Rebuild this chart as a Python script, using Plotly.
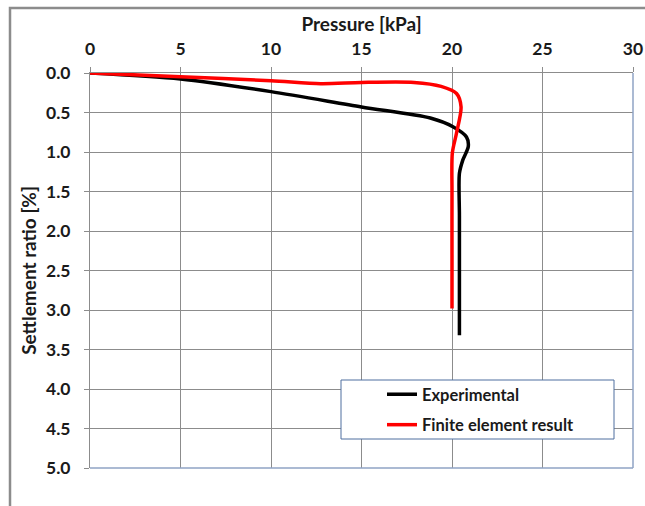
import plotly.graph_objects as go

# Load-settlement curves
exp_pressure = [0, 5, 10, 15, 18.8, 20.05, 20.8, 20.9, 20.6, 20.41, 20.41, 20.41, 20.41]
exp_settlement = [0, 0.076, 0.236, 0.43, 0.57, 0.68, 0.81, 0.93, 1.10, 1.27, 1.8, 2.6, 3.32]

fe_pressure = [0, 5, 10, 12.75, 15, 17.9, 19.4, 20.25, 20.5, 20.25, 20.02, 20.0, 20.0, 20.0]
fe_settlement = [0, 0.047, 0.097, 0.135, 0.12, 0.12, 0.17, 0.26, 0.43, 0.76, 1.01, 1.5, 2.3, 2.98]

x_ticks = [0, 5, 10, 15, 20, 25, 30]
y_ticks = [0.0, 0.5, 1.0, 1.5, 2.0, 2.5, 3.0, 3.5, 4.0, 4.5, 5.0]

FONT = "Lato"
TXT = "#1a1a1a"
GRID = "#8c8c8c"
FRAME = "#8fa3c4"
FS_TICK = 17.5
FS_LEG = 16.5
FS_TITLE = 19

fig = go.Figure()
fig.add_trace(go.Scatter(
    x=exp_pressure, y=exp_settlement, mode="lines", name="Experimental",
    line=dict(color="black", width=3.5, shape="spline", smoothing=0.8),
    legendgroup="a",
))
fig.add_trace(go.Scatter(
    x=fe_pressure, y=fe_settlement, mode="lines", name="Finite element result",
    line=dict(color="#ff0000", width=3.5, shape="spline", smoothing=0.8),
    legendgroup="b",
))

# legend frame, plot frame (bottom/right) and outer chart border
W, H = 543.0, 395.0
def px_x(p):
    return (p - 90) / W
def px_y(p):
    return (468 - p) / H

fig.add_shape(type="rect", xref="paper", yref="paper",
              x0=px_x(341), x1=px_x(614), y0=px_y(439), y1=px_y(380),
              line=dict(color="#4f6f9f", width=1), fillcolor="white", layer="above")
fig.add_shape(type="rect", xref="paper", yref="paper",
              x0=px_x(10), x1=px_x(660), y0=px_y(520), y1=px_y(8),
              line=dict(color="#8c8c8c", width=2.5), layer="below")
fig.add_shape(type="line", xref="paper", yref="paper", x0=0, x1=1, y0=0, y1=0,
              line=dict(color=FRAME, width=1.5))
fig.add_shape(type="line", xref="paper", yref="paper", x0=1, x1=1, y0=0, y1=1,
              line=dict(color=FRAME, width=1.5))

fig.update_layout(
    width=645, height=506,
    margin=dict(l=90, r=12, t=73, b=38, autoexpand=False),
    paper_bgcolor="white", plot_bgcolor="white",
    font=dict(family=FONT, size=FS_LEG, color=TXT, weight="bold"),
    showlegend=True,
    legend=dict(
        x=px_x(382), y=px_y(377), xanchor="left", yanchor="top",
        bgcolor="rgba(0,0,0,0)", borderwidth=0,
        font=dict(family=FONT, size=FS_LEG, color=TXT, weight="bold"),
        tracegroupgap=6, itemwidth=30,
    ),
    xaxis=dict(
        side="top", range=[0, 30], tickvals=x_ticks,
        showgrid=True, gridcolor=GRID, gridwidth=1,
        showline=True, linecolor=GRID, linewidth=1,
        ticks="outside", ticklen=5, tickcolor=GRID,
        ticklabelstandoff=5, automargin=False,
        zeroline=False,
        title=dict(text="Pressure [kPa]", standoff=1,
                   font=dict(family=FONT, size=FS_TITLE, weight="bold")),
        tickfont=dict(family=FONT, size=FS_TICK, weight="bold"),
    ),
    yaxis=dict(
        range=[5, 0], tickvals=y_ticks, tickformat=".1f",
        showgrid=True, gridcolor=GRID, gridwidth=1,
        showline=True, linecolor=GRID, linewidth=1,
        ticks="outside", ticklen=5, tickcolor=GRID,
        ticklabelstandoff=10, automargin=False,
        zeroline=False,
        title=dict(text="Settlement ratio [%]", standoff=4,
                   font=dict(family=FONT, size=FS_TITLE, weight="bold")),
        tickfont=dict(family=FONT, size=FS_TICK, weight="bold"),
    ),
)

fig.write_html("out.html")
